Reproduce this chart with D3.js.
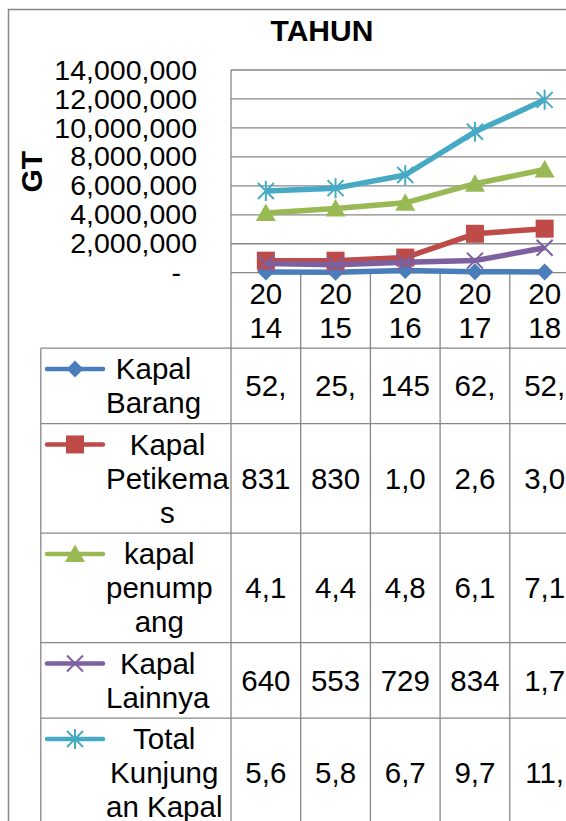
<!DOCTYPE html>
<html>
<head>
<meta charset="utf-8">
<script src="https://cdn.jsdelivr.net/npm/d3@7"></script>
<style>
body { margin:0; background:#fff; }
text { font-family:"Liberation Sans", Arial, sans-serif; fill:#000; }
</style>
</head>
<body>
<div id="container"></div>
<script>
// Data ---------- ---------- ----------
let years = ["2014", "2015", "2016", "2017", "2018"];
let seriesNames = ["Kapal Barang", "Kapal Petikemas", "kapal penumpang", "Kapal Lainnya", "Total Kunjungan Kapal"];
let seriesLabels = [["Kapal", "Barang"], ["Kapal", "Petikema", "s"], ["kapal", "penump", "ang"], ["Kapal", "Lainnya"], ["Total", "Kunjung", "an Kapal"]];
let kapalBarang    = [52350, 25410, 145280, 62430, 52310];
let kapalPetikemas = [831240, 830150, 1045000, 2687000, 3042000];
let kapalPenumpang = [4120000, 4432000, 4826000, 6148000, 7125000];
let kapalLainnya   = [640180, 553270, 729410, 834520, 1718000];
let totalKunjungan = [5643770, 5840830, 6745690, 9731950, 11937310];
let yTicks = [0, 2000000, 4000000, 6000000, 8000000, 10000000, 12000000, 14000000];
let title = "TAHUN", yTitle = "GT";

// Styles ---------- ---------- ----------
let colors  = ["#4A7EBB", "#BE4B48", "#98B954", "#7D60A0", "#46AAC5"];
let markers = ["diamond", "square", "triangle", "x", "star"];
let grid = "#878787";
let fs = 29.5, fsB = 30, fsTick = 28.5, lineH = 34;

let series = seriesNames.map((n, i) => ({
    name: n, labels: seriesLabels[i],
    values: [kapalBarang, kapalPetikemas, kapalPenumpang, kapalLainnya, totalKunjungan][i],
    color: colors[i], marker: markers[i]
}));

// Canvas ---------- ---------- ----------
let canvasW = 566, canvasH = 821;
let svg = d3.select("#container").append("svg").attr("width", canvasW).attr("height", canvasH);
svg.append("rect").attr("width", canvasW).attr("height", canvasH).attr("fill", "#fff");
svg.append("rect").attr("x", 8.5).attr("y", 9.5).attr("width", 700).attr("height", 900)
    .attr("fill", "none").attr("stroke", grid).attr("stroke-width", 1.5);

// Scales ---------- ---------- ----------
let plotL = 231, plotT = 70, plotB = 272.7, bw = 69.7;
let x = d3.scaleBand().domain(years).range([plotL, plotL + bw * years.length]);
let y = d3.scaleLinear().domain([0, 14000000]).range([plotB, plotT]);
let plotR = x.range()[1];
let cx = d => x(d) + x.bandwidth() / 2;

// Titles
svg.append("text").attr("x", 322).attr("y", 41).attr("text-anchor", "middle")
    .attr("font-weight", "bold").attr("font-size", fsB).text(title);
svg.append("text").attr("transform", "translate(41.5,171.7) rotate(-90)").attr("text-anchor", "middle")
    .attr("font-weight", "bold").attr("font-size", fsB).text(yTitle);

// Grid + y axis ---------- ---------- ----------
svg.selectAll(".grid").data(yTicks).enter().append("line").attr("class", "grid")
    .attr("x1", plotL).attr("x2", plotR).attr("y1", d => y(d)).attr("y2", d => y(d))
    .attr("stroke", grid).attr("stroke-width", 1.3);
let yAxis = svg.append("g").attr("transform", "translate(" + plotL + ",0)")
    .call(d3.axisLeft(y).tickValues(yTicks).tickSize(0).tickPadding(34)
        .tickFormat(d => d === 0 ? "-" : d3.format(",")(d)));
yAxis.select(".domain").remove();
yAxis.selectAll("text").attr("font-size", fsTick).attr("font-family", null).attr("fill", "#000")
    .attr("dx", d => d === 0 ? -16 : 0);

// Table ---------- ---------- ----------
let headTop = plotB, headH = 2 * lineH + 7.5;
let rowTops = [], acc = headTop + headH;
series.forEach(s => { rowTops.push(acc); acc += s.labels.length * lineH + 7.5; });
let tableB = 900, legL = 40.8, keyL = 47, keyR = 103, textL = 106;

// vertical lines
svg.append("line").attr("x1", plotL).attr("x2", plotL).attr("y1", plotT).attr("y2", tableB)
    .attr("stroke", grid).attr("stroke-width", 1.3);
svg.selectAll(".vcol").data(years).enter().append("line").attr("class", "vcol")
    .attr("x1", d => x(d) + bw).attr("x2", d => x(d) + bw).attr("y1", plotB).attr("y2", tableB)
    .attr("stroke", grid).attr("stroke-width", 1.3);
svg.append("line").attr("x1", legL).attr("x2", legL).attr("y1", rowTops[0]).attr("y2", tableB)
    .attr("stroke", grid).attr("stroke-width", 1.3);
svg.selectAll(".hrow").data(rowTops).enter().append("line").attr("class", "hrow")
    .attr("x1", legL).attr("x2", plotR).attr("y1", d => d).attr("y2", d => d)
    .attr("stroke", grid).attr("stroke-width", 1.3);

// year labels in header
years.forEach(yr => {
    let mid = headTop + headH / 2;
    [yr.slice(0, 2), yr.slice(2)].forEach((t, j) => {
        svg.append("text").attr("x", cx(yr)).attr("y", mid + (j - 0.5) * lineH + 10.5)
            .attr("text-anchor", "middle").attr("font-size", fs).text(t);
    });
});

// Markers ---------- ---------- ----------
function drawMarker(g, type, color) {
    if (type == "diamond") g.append("path").attr("d", "M0,-8.5L8.5,0L0,8.5L-8.5,0Z").attr("fill", color);
    if (type == "square") g.append("rect").attr("x", -9).attr("y", -9).attr("width", 18).attr("height", 18).attr("fill", color);
    if (type == "triangle") g.append("path").attr("d", "M0,-9.5L10,8L-10,8Z").attr("fill", color);
    if (type == "x" || type == "star") {
        let d = "M-8,-8L8,8M8,-8L-8,8" + (type == "star" ? "M0,-10L0,10" : "");
        g.append("path").attr("d", d).attr("stroke", color).attr("stroke-width", 2).attr("fill", "none");
    }
}

// Legend rows + values
series.forEach((s, i) => {
    let top = rowTops[i], h = s.labels.length * lineH + 7.5, mid = top + h / 2;
    let first = mid - (s.labels.length - 1) * lineH / 2;
    svg.append("line").attr("x1", keyL).attr("x2", keyR).attr("y1", first).attr("y2", first)
        .attr("stroke", s.color).attr("stroke-width", 4.5).attr("stroke-linecap", "round");
    drawMarker(svg.append("g").attr("transform", "translate(" + (keyL + keyR) / 2 + "," + first + ")"), s.marker, s.color);
    let lbl = s.labels.map((t, j) => svg.append("text").attr("y", first + j * lineH + 10.5)
        .attr("text-anchor", "middle").attr("font-size", fs).text(t));
    let maxW = d3.max(lbl, t => t.node().getComputedTextLength());
    lbl.forEach(t => t.attr("x", textL + maxW / 2));
    s.values.forEach((v, j) => {
        svg.append("text").attr("x", cx(years[j])).attr("y", mid + 10.5)
            .attr("text-anchor", "middle").attr("font-size", fs).text(d3.format(",")(v).slice(0, 3));
    });
});

// Lines ---------- ---------- ----------
let line = d3.line().x((d, j) => cx(years[j])).y(d => y(d));
series.forEach(s => {
    svg.append("path").datum(s.values).attr("d", line).attr("fill", "none")
        .attr("stroke", s.color).attr("stroke-width", 5.5).attr("stroke-linejoin", "round");
    s.values.forEach((v, j) => drawMarker(svg.append("g")
        .attr("transform", "translate(" + cx(years[j]) + "," + y(v) + ")"), s.marker, s.color));
});
</script>
</body>
</html>
